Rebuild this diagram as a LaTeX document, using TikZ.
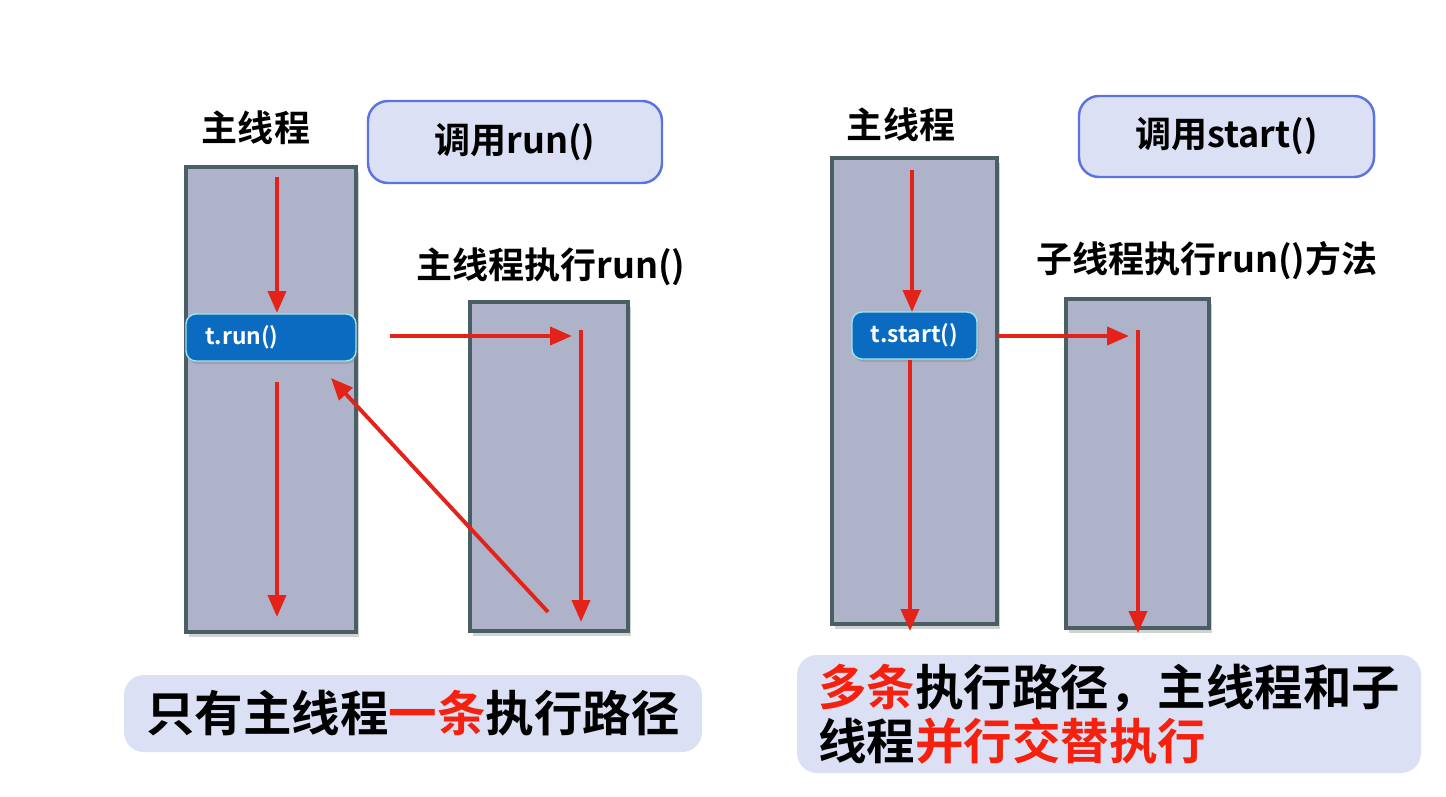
\documentclass[tikz,border=0pt]{standalone}
\usepackage{fontspec}
\setmainfont{Noto Sans CJK SC}[BoldFont={Noto Sans CJK SC Bold}]
\usetikzlibrary{arrows.meta,shadows}
\definecolor{thread}{HTML}{AEB3C9}
\definecolor{threadline}{HTML}{4A5F63}
\definecolor{callfill}{HTML}{DCE0F5}
\definecolor{callline}{HTML}{5B73E0}
\definecolor{redline}{HTML}{E3221A}
\definecolor{btnfill}{HTML}{0A6BC0}
\definecolor{btnline}{HTML}{9FE3F0}
\definecolor{redtext}{HTML}{F5200E}
\tikzset{
  threadbox/.style={draw=threadline, fill=thread, line width=1.9pt, inner sep=0pt,
    drop shadow={shadow xshift=0.5mm, shadow yshift=-1mm, opacity=0.35}},
  callbox/.style={draw=callline, fill=callfill, line width=1.4pt, rounded corners=4mm, inner sep=0pt},
  btn/.style={draw=btnline, fill=btnfill, line width=0.8pt, rounded corners=2mm, inner sep=0pt,
    drop shadow={shadow xshift=0.3mm, shadow yshift=-0.6mm, opacity=0.35}},
  flow/.style={draw=redline, line width=2.2pt, -{Triangle[length=4.4mm,width=3.6mm]}},
  big/.style={font=\bfseries\fontsize{20.5pt}{24pt}\selectfont},
  huge/.style={font=\bfseries\fontsize{27.6pt}{31pt}\selectfont},
  small/.style={font=\bfseries\fontsize{13pt}{15pt}\selectfont, text=white},
  summary/.style={fill=callfill, rounded corners=4mm, inner sep=0pt}
}
\begin{document}
\begin{tikzpicture}[x=0.02cm,y=-0.02cm]
\useasboundingbox[fill=white] (0,0) rectangle (1446,797);
% ---------- left ----------
\node[big] (lmainlbl) at (256,128) {主线程};
\node[callbox, minimum width=294*0.02cm, minimum height=82*0.02cm] (lcall) at (515,142) {};
\node[big] at (lcall) {调用run()};
\node[threadbox, minimum width=170*0.02cm, minimum height=465*0.02cm] (lmain) at (271,399.5) {};
\node[threadbox, minimum width=158*0.02cm, minimum height=329*0.02cm] (lsub) at (549,466.5) {};
\node[big] (lsublbl) at (551,267) {主线程执行run()};
\node[btn, minimum width=170*0.02cm, minimum height=47*0.02cm] (lbtn) at (271,337.5) {};
\node[small, anchor=west] at (199,337.5) {t.run()};
\coordinate (l1a) at (277,177);
\coordinate (l1b) at (277,313);
\draw[flow] (l1a) -- (l1b);
\coordinate (l2a) at (277,382);
\coordinate (l2b) at (277,617);
\draw[flow] (l2a) -- (l2b);
\coordinate (l3a) at (390,336);
\coordinate (l3b) at (572,336);
\draw[flow] (l3a) -- (l3b);
\coordinate (l4a) at (581,330);
\coordinate (l4b) at (581,622);
\draw[flow] (l4a) -- (l4b);
\coordinate (l5a) at (548,612);
\coordinate (l5b) at (331,378);
\draw[flow] (l5a) -- (l5b);
\node[summary, minimum width=578*0.02cm, minimum height=77*0.02cm] (lsum) at (413,713.5) {};
\node[huge] at (lsum) {只有主线程\textcolor{redtext}{一条}执行路径};
% ---------- right ----------
\node[big] (rmainlbl) at (901,125) {主线程};
\node[callbox, minimum width=295*0.02cm, minimum height=81*0.02cm] (rcall) at (1226.5,136.5) {};
\node[big] at (rcall) {调用start()};
\node[threadbox, minimum width=165*0.02cm, minimum height=466*0.02cm] (rmain) at (914.5,391) {};
\node[threadbox, minimum width=143*0.02cm, minimum height=329*0.02cm] (rsub) at (1137.5,463.5) {};
\node[big] (rsublbl) at (1207,261) {子线程执行run()方法};
\node[btn, minimum width=125*0.02cm, minimum height=47*0.02cm] (rbtn) at (914.5,335.5) {};
\node[small] at (rbtn) {t.start()};
\coordinate (r1a) at (912,170);
\coordinate (r1b) at (912,312);
\draw[flow] (r1a) -- (r1b);
\coordinate (r2a) at (910,360);
\coordinate (r2b) at (910,631);
\draw[flow] (r2a) -- (r2b);
\coordinate (r3a) at (998,336);
\coordinate (r3b) at (1129,336);
\draw[flow] (r3a) -- (r3b);
\coordinate (r4a) at (1138,330);
\coordinate (r4b) at (1138,633);
\draw[flow] (r4a) -- (r4b);
\node[summary, minimum width=624*0.02cm, minimum height=118*0.02cm] (rsum) at (1109,714) {};
\node[huge, anchor=west, align=left] at (812,714) {\textcolor{redtext}{多条}执行路径，主线程和子\\线程\textcolor{redtext}{并行交替执行}};
\end{tikzpicture}
\end{document}
